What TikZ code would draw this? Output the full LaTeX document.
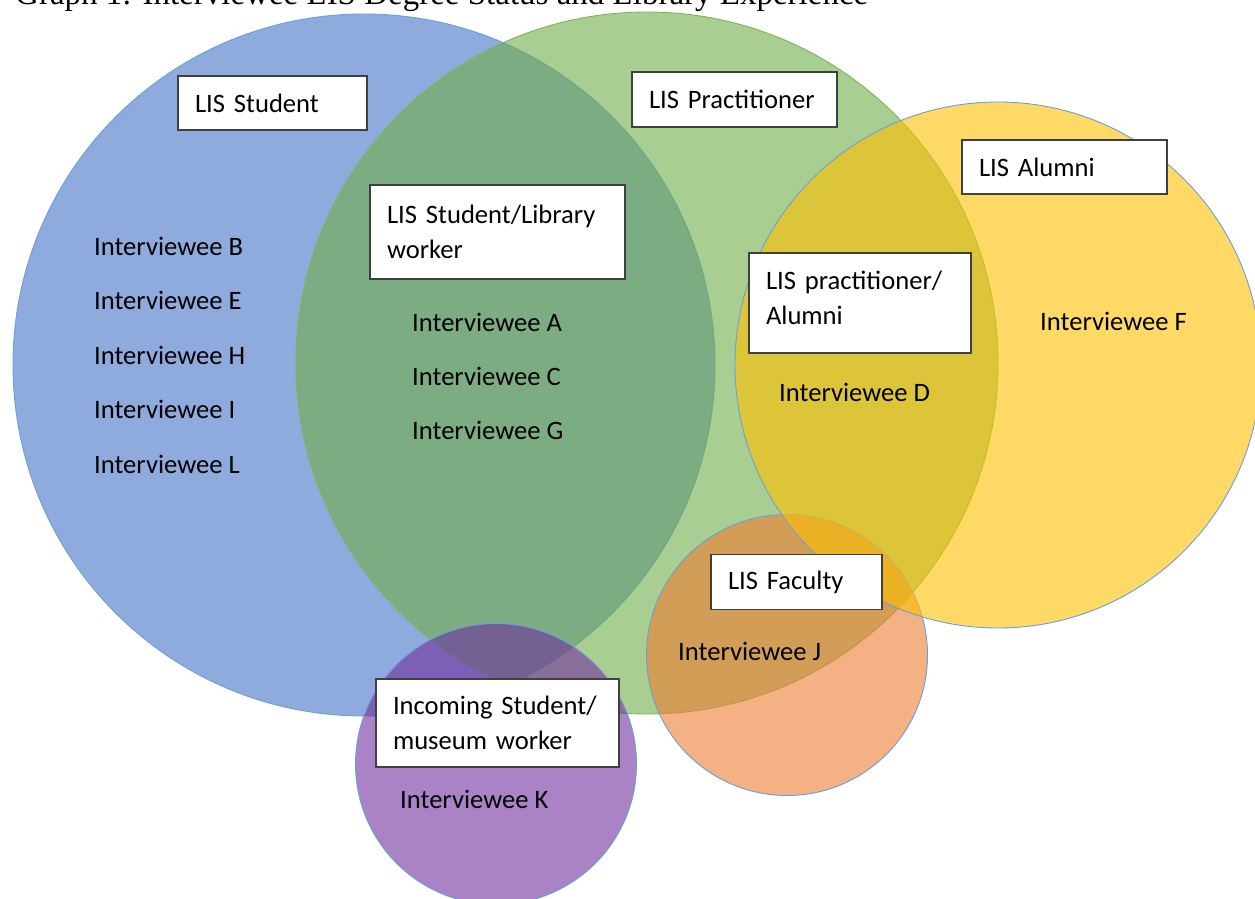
\documentclass[tikz,border=0pt]{standalone}
\usepackage{fontspec}
\setmainfont{Carlito}
\newfontfamily\titlefont{Liberation Serif}
\definecolor{setblue}{HTML}{4472C4}
\definecolor{setgreen}{HTML}{70AD47}
\definecolor{setyellow}{HTML}{FFC000}
\definecolor{setorange}{HTML}{ED7D31}
\definecolor{setpurple}{HTML}{7030A0}
\definecolor{edgeblue}{HTML}{6A9FD8}
\definecolor{edgegreen}{HTML}{7FB35A}
\definecolor{boxgray}{HTML}{404040}

\begin{document}
\begin{tikzpicture}[x=1pt, y=-1pt,
	ring/.style={circle, inner sep=0pt, minimum size=#1, fill opacity=0.6, line width=0.9pt},
	tagbox/.style={draw=boxgray, line width=1.5pt, fill=white, align=left,
		inner xsep=17pt, inner ysep=0pt, font=\fontsize{26.6}{35}\selectfont},
	person/.style={anchor=base west, inner sep=0pt, font=\fontsize{26.6}{31}\selectfont}
	]
	\clip (0,0) rectangle (1255,899);

	\node[anchor=base west, inner sep=0pt, font=\titlefont\fontsize{33}{40}\selectfont] (title) at (15,5)
		{Graph 1: Interviewee LIS Degree Status and Library Experience};

	% the five sets
	\node[ring=702pt, fill=setblue, draw=edgeblue] (student) at (364,365) {};
	\node[ring=702pt, fill=setgreen, draw=edgegreen] (practitioner) at (647,363) {};
	\node[ring=281pt, fill=setorange, draw=edgeblue] (faculty) at (787,655) {};
	\node[ring=526pt, fill=setyellow, draw=edgeblue] (alumni) at (998,365) {};
	\node[ring=281pt, fill=setpurple, draw=edgeblue] (incoming) at (496,764) {};

	% labels of the sets
	\node[tagbox, text width=155pt, minimum height=54pt] (tStudent) at (272.5,103) {LIS Student};
	\node[tagbox, text width=171pt, minimum height=55pt] (tPract) at (734.5,99.5) {LIS Practitioner};
	\node[tagbox, text width=171pt, minimum height=54pt] (tAlumni) at (1064.5,167) {LIS Alumni};
	\node[tagbox, text width=221pt, minimum height=94pt] (tStudLib) at (497.5,232) {LIS Student/Library\\worker};
	\node[tagbox, text width=188pt, minimum height=100pt] (tPractAl) at (860,303) {LIS practitioner/\\Alumni\\[-25pt]\mbox{}};
	\node[tagbox, text width=137pt, minimum height=55pt] (tFaculty) at (796.5,582) {LIS Faculty};
	\node[tagbox, text width=209pt, minimum height=88pt] (tIncoming) at (497.5,723) {Incoming Student/\\museum worker};

	% interviewees
	\node[person] (pB) at (94,255) {Interviewee B};
	\node[person] (pE) at (94,309.5) {Interviewee E};
	\node[person] (pH) at (94,364) {Interviewee H};
	\node[person] (pI) at (94,418.5) {Interviewee I};
	\node[person] (pL) at (94,473) {Interviewee L};

	\node[person] (pA) at (412,331) {Interviewee A};
	\node[person] (pC) at (412,385) {Interviewee C};
	\node[person] (pG) at (412,439) {Interviewee G};

	\node[person] (pD) at (779,401) {Interviewee D};
	\node[person] (pF) at (1040,330) {Interviewee F};
	\node[person] (pJ) at (678,660) {Interviewee J};
	\node[person] (pK) at (400,808) {Interviewee K};
\end{tikzpicture}
\end{document}
